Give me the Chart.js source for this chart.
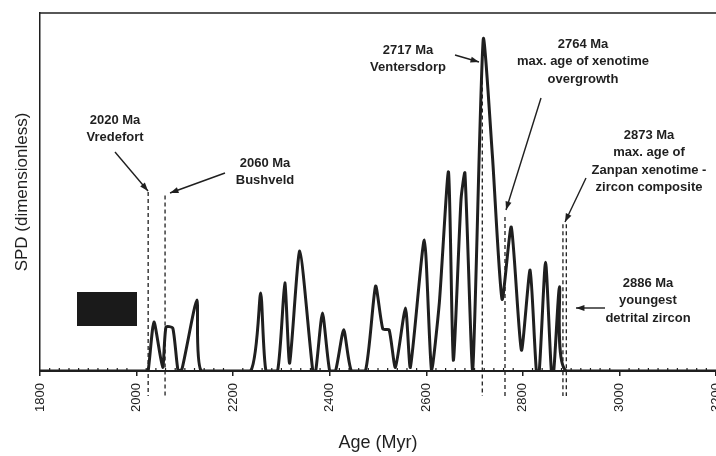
<!DOCTYPE html>
<html>
<head>
<meta charset="utf-8">
<script src="https://cdn.jsdelivr.net/npm/chart.js@4"></script>
<style>
  html, body { margin: 0; padding: 0; background: #fff; overflow: hidden; }
</style>
</head>
<body>
<canvas id="spdChart" width="716" height="456"></canvas>
<script>
// SPD curve (age in Myr, height in % of plot height)
const ages = [1800, 2020, 2024, 2036, 2054, 2061, 2075, 2086, 2094, 2125, 2134,
              2236, 2257, 2268, 2292, 2307, 2317, 2338, 2365, 2371, 2385, 2400,
              2412, 2429, 2445, 2474, 2495, 2510, 2523, 2536, 2557, 2567, 2596,
              2611, 2627, 2646, 2656, 2672, 2680, 2696, 2718, 2737, 2757, 2776,
              2797, 2815, 2828, 2834, 2847, 2859, 2864, 2876, 2890, 3200];
const spd = [0, 0, 0, 13.7, 1, 12.3, 12, 0, 0.5, 19.8, 0,
             0, 21.8, 0, 0, 24.6, 2.2, 33.5, 0, 0, 16.2, 0,
             0, 11.5, 0, 0, 23.7, 11.7, 11.5, 1, 17.6, 1, 36.6,
             0, 19, 55.6, 3, 48, 55.3, 0, 92.7, 60, 20, 40.2,
             5.8, 28.2, 0, 0, 30.4, 0, 0, 23.5, 0, 0];

const tickAges = [1800, 2000, 2200, 2400, 2600, 2800, 3000, 3200];

// dashed marker lines (age, top of the dash in plot units)
const markerAges = [2024, 2059, 2716, 2763, 2883, 2890];
const markerTops = [50, 49, 87, 43, 41, 41];

// annotation texts
const noteLines = [
    ['2020 Ma', 'Vredefort'],
    ['2060 Ma', 'Bushveld'],
    ['2717 Ma', 'Ventersdorp'],
    ['2764 Ma', 'max. age of xenotime', 'overgrowth'],
    ['2873 Ma', 'max. age of', 'Zanpan xenotime -', 'zircon composite'],
    ['2886 Ma', 'youngest', 'detrital zircon']
];
const notePos = [[115, 120], [265, 163], [408, 50], [583, 44], [649, 135], [648, 283]];
const noteArrows = [
    [115, 152, 148, 191],
    [225, 173, 170, 193],
    [455, 55, 479, 62],
    [541, 98, 506, 210],
    [586, 178, 565, 222],
    [605, 308, 576, 308]
];

const ink = '#1f1f1f';

function arrow(ctx, x1, y1, x2, y2) {
    ctx.beginPath();
    ctx.moveTo(x1, y1);
    ctx.lineTo(x2, y2);
    ctx.stroke();
    const a = Math.atan2(y2 - y1, x2 - x1), h = 9;
    ctx.beginPath();
    ctx.moveTo(x2, y2);
    ctx.lineTo(x2 - h * Math.cos(a - 0.35), y2 - h * Math.sin(a - 0.35));
    ctx.lineTo(x2 - h * Math.cos(a + 0.35), y2 - h * Math.sin(a + 0.35));
    ctx.closePath();
    ctx.fill();
}

const extras = {
    id: 'extras',
    afterDraw(chart) {
        const ctx = chart.ctx;
        const xs = chart.scales.x, ys = chart.scales.y;
        const area = chart.chartArea;
        ctx.save();
        ctx.strokeStyle = ink;
        ctx.fillStyle = ink;

        // top frame line
        ctx.lineWidth = 1.5;
        ctx.beginPath();
        ctx.moveTo(area.left, area.top);
        ctx.lineTo(area.right, area.top);
        ctx.stroke();

        // minor ticks every 20 Myr
        ctx.lineWidth = 1.2;
        for (let a = 1820; a < 3200; a += 20) {
            if (a % 200 === 0) continue;
            const px = xs.getPixelForValue(a);
            ctx.beginPath();
            ctx.moveTo(px, area.bottom);
            ctx.lineTo(px, area.bottom - 3);
            ctx.stroke();
        }

        // dark legend box
        ctx.fillStyle = '#1a1a1a';
        ctx.fillRect(77, 292, 60, 34);
        ctx.fillStyle = ink;

        // dashed age markers
        ctx.lineWidth = 1.3;
        ctx.setLineDash([4, 3]);
        markerAges.forEach((age, i) => {
            const px = xs.getPixelForValue(age);
            ctx.beginPath();
            ctx.moveTo(px, ys.getPixelForValue(markerTops[i]));
            ctx.lineTo(px, ys.getPixelForValue(-7));
            ctx.stroke();
        });
        ctx.setLineDash([]);

        // annotation text
        ctx.font = 'bold 13px "Liberation Sans", Arial, sans-serif';
        ctx.textAlign = 'center';
        ctx.textBaseline = 'middle';
        noteLines.forEach((lines, i) => {
            lines.forEach((t, j) => ctx.fillText(t, notePos[i][0], notePos[i][1] + j * 17.5));
        });

        // arrows
        ctx.lineWidth = 1.4;
        noteArrows.forEach(a => arrow(ctx, a[0], a[1], a[2], a[3]));

        ctx.restore();
    }
};

new Chart(document.getElementById('spdChart'), {
    type: 'line',
    data: {
        datasets: [{
            data: ages.map((a, i) => ({ x: a, y: spd[i] })),
            borderColor: ink,
            borderWidth: 3,
            pointRadius: 0,
            fill: false,
            tension: 0.2
        }]
    },
    options: {
        responsive: false,
        animation: false,
        layout: { padding: { top: 13, left: 0, right: 0, bottom: 0 } },
        plugins: { legend: { display: false }, tooltip: { enabled: false } },
        scales: {
            x: {
                type: 'linear',
                min: 1800,
                max: 3200,
                afterBuildTicks: scale => { scale.ticks = tickAges.map(v => ({ value: v })); },
                afterFit: scale => { scale.paddingLeft = 0; scale.paddingRight = 0; scale.height = 85; },
                ticks: {
                    autoSkip: false,
                    minRotation: 90,
                    maxRotation: 90,
                    padding: 7,
                    color: ink,
                    font: { family: '"Liberation Sans", Arial, sans-serif', size: 13 },
                    callback: v => String(v)
                },
                grid: { display: true, drawOnChartArea: false, tickLength: 5, color: ink, lineWidth: 1.5 },
                border: { display: true, color: ink, width: 2 },
                title: {
                    display: true,
                    text: 'Age (Myr)',
                    color: ink,
                    padding: { top: 0, bottom: 2 },
                    font: { family: '"Liberation Sans", Arial, sans-serif', size: 18 }
                }
            },
            y: {
                min: 0,
                max: 100,
                afterFit: scale => { scale.width = 40; scale.paddingTop = 0; scale.paddingBottom = 0; },
                ticks: { display: false },
                grid: { display: false, drawTicks: false },
                border: { display: true, color: ink, width: 1.5 },
                title: {
                    display: true,
                    text: 'SPD (dimensionless)',
                    color: ink,
                    padding: { top: 12, bottom: 0 },
                    font: { family: '"Liberation Sans", Arial, sans-serif', size: 17 }
                }
            }
        }
    },
    plugins: [extras]
});
</script>
</body>
</html>
